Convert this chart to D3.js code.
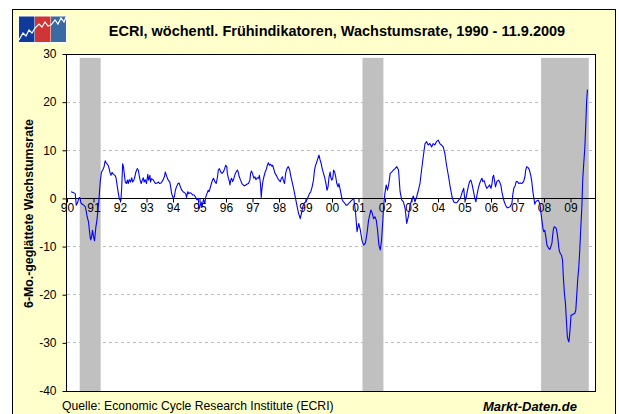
<!DOCTYPE html>
<html><head><meta charset="utf-8">
<script src="https://cdn.jsdelivr.net/npm/d3@7"></script>
<style>
html,body{margin:0;padding:0;background:#fff;}
svg{display:block;font-family:"Liberation Sans",Arial,sans-serif;}
</style>
</head><body>
<svg id="chart" width="619" height="414"></svg>
<script>
// ---- data ----
const dates = [
 1990.15,1990.25,1990.31,1990.35,1990.40,1990.44,1990.48,1990.53,1990.58,1990.63,1990.69,1990.73,1990.76,1990.81,1990.85,1990.88,1990.90,1990.94,1990.96,
 1991.00,1991.04,1991.06,1991.09,1991.13,1991.16,1991.20,1991.23,1991.26,1991.30,1991.35,1991.40,1991.44,1991.48,1991.51,1991.56,1991.59,1991.63,1991.66,1991.70,1991.75,1991.81,1991.85,1991.90,1991.94,1991.98,
 1992.03,1992.06,1992.10,1992.13,1992.16,1992.20,1992.24,1992.28,1992.31,1992.35,1992.40,1992.44,1992.48,1992.53,1992.56,1992.60,1992.65,1992.69,1992.73,1992.76,1992.80,1992.84,1992.88,1992.91,1992.95,
 1993.00,1993.05,1993.08,1993.13,1993.15,1993.19,1993.25,1993.30,1993.35,1993.40,1993.45,1993.50,1993.55,1993.63,1993.68,1993.71,1993.75,1993.81,1993.88,1993.91,1993.95,
 1994.00,1994.05,1994.09,1994.13,1994.19,1994.23,1994.28,1994.33,1994.38,1994.43,1994.48,1994.51,1994.56,1994.60,1994.65,1994.70,1994.75,1994.80,1994.85,1994.90,1994.95,1994.99,
 1995.03,1995.06,1995.10,1995.15,1995.20,1995.24,1995.28,1995.33,1995.36,1995.40,1995.45,1995.49,1995.53,1995.58,1995.63,1995.68,1995.71,1995.75,1995.80,1995.85,1995.90,1995.95,1995.99,
 1996.03,1996.05,1996.09,1996.13,1996.15,1996.18,1996.21,1996.25,1996.30,1996.34,1996.38,1996.43,1996.46,1996.50,1996.55,1996.60,1996.65,1996.70,1996.75,1996.80,1996.85,1996.90,1996.93,1996.96,
 1997.00,1997.05,1997.09,1997.13,1997.18,1997.23,1997.26,1997.30,1997.33,1997.35,1997.39,1997.43,1997.48,1997.53,1997.56,1997.60,1997.64,1997.68,1997.73,1997.76,1997.80,1997.85,1997.90,1997.95,
 1998.00,1998.05,1998.09,1998.13,1998.16,1998.21,1998.25,1998.30,1998.35,1998.40,1998.44,1998.48,1998.51,1998.55,1998.60,1998.65,1998.70,1998.74,1998.78,1998.80,1998.83,1998.86,1998.90,1998.95,
 1999.00,1999.05,1999.10,1999.15,1999.20,1999.25,1999.30,1999.34,1999.38,1999.41,1999.45,1999.49,1999.51,1999.55,1999.59,1999.63,1999.68,1999.73,1999.78,1999.81,1999.85,1999.89,1999.93,1999.95,1999.99,
 2000.03,2000.06,2000.10,2000.14,2000.18,2000.23,2000.26,2000.30,2000.34,2000.38,2000.43,2000.48,2000.53,2000.57,2000.76,2000.82,2000.88,2000.945,
 2001.01,2001.07,2001.13,2001.195,2001.26,2001.32,2001.38,2001.42,2001.47,2001.52,2001.57,2001.62,2001.67,2001.72,2001.77,2001.82,2001.87,2001.92,2001.945,2001.995,
 2002.045,2002.095,2002.145,2002.195,2002.26,2002.32,2002.38,2002.445,2002.51,2002.57,2002.63,2002.695,2002.76,2002.82,2002.88,2002.945,
 2003.01,2003.07,2003.13,2003.195,2003.26,2003.32,2003.38,2003.445,2003.51,2003.57,2003.63,2003.695,2003.76,2003.82,2003.88,2003.945,
 2004.01,2004.07,2004.13,2004.195,2004.26,2004.32,2004.40,2004.46,2004.53,2004.59,2004.65,2004.71,2004.78,2004.84,2004.88,2004.92,2004.97,
 2005.00,2005.04,2005.09,2005.14,2005.19,2005.24,2005.29,2005.34,2005.39,2005.43,2005.47,2005.52,2005.57,2005.62,2005.66,2005.69,2005.74,2005.79,2005.84,2005.89,2005.95,
 2006.00,2006.03,2006.07,2006.10,2006.13,2006.17,2006.22,2006.28,2006.32,2006.37,2006.41,2006.45,2006.50,2006.55,2006.60,2006.66,2006.72,2006.79,2006.82,2006.86,2006.91,2006.95,
 2007.00,2007.05,2007.10,2007.16,2007.23,2007.28,2007.31,2007.35,2007.40,2007.45,2007.50,2007.54,2007.58,2007.62,2007.65,2007.69,2007.73,2007.78,2007.82,2007.85,2007.88,2007.92,2007.96,2007.99,
 2008.03,2008.07,2008.11,2008.14,2008.18,2008.22,2008.26,2008.30,2008.32,2008.35,2008.38,2008.42,2008.46,2008.50,2008.53,2008.57,2008.61,2008.66,2008.70,2008.73,2008.77,2008.81,2008.83,2008.86,2008.88,2008.91,2008.94,2008.96,2008.99,
 2009.02,2009.06,2009.11,2009.16,2009.20,2009.24,2009.27,2009.31,2009.35,2009.39,2009.43,2009.46,2009.50,2009.54,2009.58,2009.61,2009.64
];
const values = [
 1.4,1.2,1.0,-1.4,-0.9,0,0.2,-1.0,-1.2,-1.4,-1.7,-2.8,-3.8,-4.8,-6.9,-8.3,-8.6,-7.6,-6.6,
 -7.9,-8.8,-7.6,-5.9,-4.5,-2.8,-0.7,1.7,3.8,5.5,5.9,6.6,7.8,7.4,7.2,6.8,6.2,5.2,4.8,5.4,5.0,4.8,4.3,2.4,1.0,-0.2,
 -0.5,1.7,7.2,6.6,5.2,3.4,3.1,3.8,3.1,3.9,3.4,4.3,3.4,3.9,4.5,5.5,6.2,5.9,4.6,3.8,3.1,3.8,4.3,3.4,3.9,
 3.1,5.0,3.8,4.8,3.4,4.1,3.9,3.4,3.1,3.2,3.4,3.1,3.2,3.9,4.6,5.5,4.8,3.9,3.4,2.4,1.0,
 0.2,0.3,1.7,2.4,3.1,3.2,2.4,1.7,1.4,1.2,1.0,0.2,1.4,1.0,1.2,1.0,0.7,0.7,0.3,-0.3,0,-2.1,
 -1.4,-0.7,-1.7,-0.2,-1.0,0.35,1.0,1.7,1.4,2.1,3.1,3.8,4.2,3.5,3.1,4.5,5.9,6.2,5.5,5.2,5.5,6.2,6.9,
 6.6,5.2,4.2,3.5,2.8,3.8,4.2,3.5,4.2,5.0,5.5,5.9,5.5,4.5,3.8,3.1,2.8,2.6,2.8,3.0,3.1,3.8,5.2,5.7,
 5.2,4.2,4.5,3.9,4.3,4.2,4.8,3.1,0.2,1.7,3.5,4.5,5.5,6.2,6.9,7.4,6.9,7.1,6.7,6.9,6.2,5.2,4.8,4.2,
 3.8,3.5,4.2,4.5,3.8,3.1,5.2,6.2,6.6,6.0,4.8,3.8,3.1,2.1,0.7,-0.7,-2.1,-3.1,-3.8,-4.2,-3.5,-2.8,-1.7,-1.0,
 -0.7,-0.35,0.35,1.0,1.4,2.4,3.8,5.9,6.9,7.3,8.0,8.7,9.0,8.0,7.3,6.2,5.2,4.2,2.8,1.7,2.4,4.5,5.5,4.5,3.8,
 4.2,5.9,5.5,4.5,3.1,2.4,3.1,2.1,1.0,-0.2,-0.7,-1.0,-1.4,-1.4,-0.3,0,-2.4,-6.9,
 -5.2,-6.6,-8.7,-9.7,-9.3,-7.3,-4.5,-3.5,-2.4,-3.1,-4.2,-3.8,-4.5,-6.6,-9.7,-10.7,-8.7,-4.5,-1.7,1.0,
 2.8,1.7,3.1,5.2,5.5,5.9,6.2,6.6,5.9,1.4,-0.3,-0.7,-2.1,-5.2,-3.8,-1.4,
 -0.3,0.5,-0.7,0.35,1.7,3.1,5.9,8.7,11.4,11.8,11.1,11.4,10.7,11.4,11.1,11.8,
 12.1,11.4,11.1,10.7,9.3,7.0,4.5,2.4,0.35,-0.7,-0.9,-0.9,-0.35,0,0.7,1.4,2.1,
 0.35,-0.35,1.0,2.4,3.5,3.8,2.8,1.4,0,-0.7,0.7,2.1,3.1,3.8,4.2,3.5,3.7,2.8,2.1,2.4,2.8,
 2.1,2.8,4.5,4.8,3.8,2.4,3.5,3.8,3.5,2.8,1.4,0.35,-0.7,-1.4,-1.9,-1.9,-1.7,-1.0,0.7,2.1,2.6,3.5,
 3.5,3.1,3.2,3.1,3.5,4.5,5.9,6.6,6.4,5.9,4.8,3.5,1.4,0,-1.2,-0.7,-0.5,-0.35,-0.8,-1.2,-2.8,-4.5,-6.2,-6.9,
 -6.6,-8.0,-9.7,-10.0,-10.4,-10.6,-10.0,-9.3,-8.0,-6.6,-5.9,-6.0,-6.2,-7.3,-8.7,-10.7,-11.4,-11.8,-12.8,-16.3,-19.7,-21.8,-23.9,-26.7,-28.7,-29.4,-29.8,-28.7,-26.7,
 -24.2,-24.2,-24.0,-23.9,-23.2,-19.7,-17.0,-14.5,-10.7,-5.9,-1.7,3.8,7.3,10.4,15.9,20.4,22.6
];
const recessionStart = [1990.48, 2001.15, 2007.89];
const recessionEnd   = [1991.27, 2001.94, 2009.69];
const yTickValues = [30, 20, 10, 0, -10, -20, -30, -40];
const xTickYears = [1990,1991,1992,1993,1994,1995,1996,1997,1998,1999,2000,2001,2002,2003,2004,2005,2006,2007,2008,2009];
const xTickLabels = ["90","91","92","93","94","95","96","97","98","99","00","01","02","03","04","05","06","07","08","09"];
const titleText = "ECRI, wöchentl. Frühindikatoren, Wachstumsrate, 1990 - 11.9.2009";
const yAxisTitle = "6-Mo.-geglättete Wachstumsrate";
const sourceText = "Quelle: Economic Cycle Research Institute (ECRI)";
const brandText = "Markt-Daten.de";

// ---- drawing ----
const svg = d3.select("#chart");
const W = 619, H = 414;
const plot = {left: 67, right: 595.5, top: 54, bottom: 391};
const x = d3.scaleLinear().domain([1990, 2009]).range([67, 570.5]);
const y = d3.scaleLinear().domain([-40, 30]).range([plot.bottom, plot.top]);
const crisp = v => Math.floor(v) + 0.5;

svg.append("rect").attr("width", W).attr("height", H).attr("fill", "#ffffff");
// outer frame
svg.append("rect").attr("x", 12.5).attr("y", 9.5).attr("width", 603).attr("height", 420)
  .attr("fill", "#FFFFCC").attr("stroke", "#000").attr("stroke-width", 1);

// logo
const logo = svg.append("g");
logo.append("rect").attr("x", 17).attr("y", 15).attr("width", 50).attr("height", 28).attr("fill", "#fff");
logo.append("rect").attr("x", 19).attr("y", 16.5).attr("width", 15.5).attr("height", 25.5).attr("fill", "#0f3a9c");
logo.append("rect").attr("x", 35).attr("y", 16.5).attr("width", 15.5).attr("height", 25.5).attr("fill", "#cf3535");
logo.append("rect").attr("x", 51).attr("y", 16.5).attr("width", 15).attr("height", 25.5).attr("fill", "#3a6aa2");
logo.append("polyline")
  .attr("points", "19,40 23,33 26,36 29,30 32,33 35,28 39,24 42,27 45,22 48,26 51,25 55,20 58,24 61,18 64,22 66,17")
  .attr("fill", "none").attr("stroke", "#fff").attr("stroke-width", 1.2);

// title
svg.append("text").attr("x", 337).attr("y", 36).attr("text-anchor", "middle")
  .attr("font-size", "14.5px").attr("font-weight", "bold").attr("fill", "#000").text(titleText);

// plot background
svg.append("rect").attr("x", plot.left).attr("y", plot.top)
  .attr("width", plot.right - plot.left).attr("height", plot.bottom - plot.top).attr("fill", "#ffffff");

// recession shading
svg.append("g").selectAll("rect").data(recessionStart.map((s, i) => [s, recessionEnd[i]]))
  .join("rect")
  .attr("x", d => x(d[0])).attr("width", d => x(d[1]) - x(d[0]))
  .attr("y", y(29.2)).attr("height", y(-40) - y(29.2))
  .attr("fill", "#C0C0C0");

// dashed gridlines
svg.append("g").selectAll("line").data(yTickValues.filter(v => v !== 0 && v !== 30 && v !== -40))
  .join("line")
  .attr("x1", plot.left).attr("x2", plot.right)
  .attr("y1", d => crisp(y(d))).attr("y2", d => crisp(y(d)))
  .attr("stroke", "#BDBDBD").attr("stroke-dasharray", "3,3").attr("stroke-width", 1);

// x axis on zero line
const xAxis = d3.axisBottom(x).tickValues(xTickYears).tickSize(4).tickSizeOuter(0).tickPadding(1)
  .tickFormat((d, i) => xTickLabels[i]);
const gx = svg.append("g").attr("transform", `translate(0,${crisp(y(0))})`).call(xAxis);
gx.select(".domain").remove();
gx.append("line").attr("x1", plot.left).attr("x2", plot.right + 0.5).attr("y1", 0).attr("y2", 0)
  .attr("stroke", "#000").attr("stroke-width", 1);
gx.selectAll(".tick line").attr("stroke", "#000");
gx.selectAll(".tick text").attr("font-size", "12px").attr("font-family", "'Liberation Sans',Arial,sans-serif").attr("fill", "#000");

// series line
const pts = dates.map((d, i) => [d, values[i]]);
svg.append("path").datum(pts)
  .attr("d", d3.line().x(d => x(d[0])).y(d => y(d[1])))
  .attr("fill", "none").attr("stroke", "#0000FF").attr("stroke-width", 1.1).attr("stroke-linejoin", "round");

// plot border
svg.append("rect").attr("x", plot.left - 0.5).attr("y", crisp(plot.top))
  .attr("width", plot.right - plot.left + 0.5).attr("height", plot.bottom - plot.top)
  .attr("fill", "none").attr("stroke", "#000").attr("stroke-width", 1);

// y axis
const yAxis = d3.axisLeft(y).tickValues(yTickValues).tickSize(4).tickSizeOuter(0).tickPadding(6)
  .tickFormat(d => String(d));
const gy = svg.append("g").attr("transform", `translate(${plot.left - 0.5},0)`).call(yAxis);
gy.select(".domain").remove();
gy.selectAll(".tick line").attr("stroke", "#000");
gy.selectAll(".tick text").attr("font-size", "12px").attr("font-family", "'Liberation Sans',Arial,sans-serif").attr("fill", "#000");

// y axis title
svg.append("text").attr("transform", "translate(33,213.5) rotate(-90)").attr("text-anchor", "middle")
  .attr("font-size", "12.3px").attr("font-weight", "bold").attr("fill", "#000").text(yAxisTitle);

// footer
svg.append("text").attr("x", 62).attr("y", 410).attr("font-size", "12.2px").attr("fill", "#000").text(sourceText);
svg.append("text").attr("x", 483).attr("y", 411)
  .attr("font-size", "13px").attr("font-weight", "bold").attr("font-style", "italic").attr("fill", "#000").text(brandText);
</script>
</body></html>
